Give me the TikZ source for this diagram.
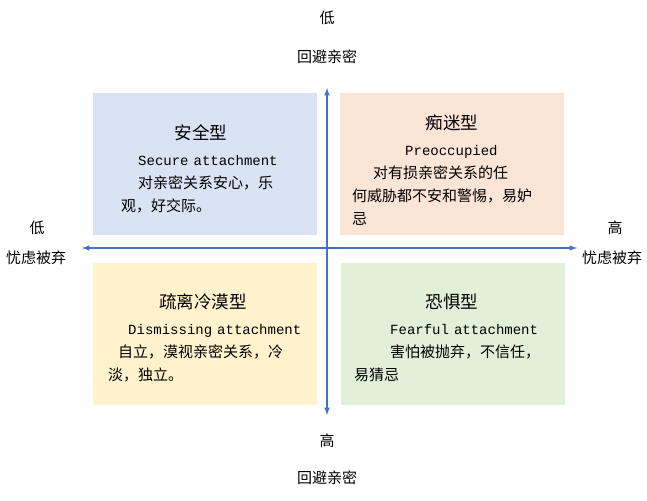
\documentclass[tikz,border=0pt]{standalone}
\usepackage{fontspec}
\setmainfont{Noto Sans CJK SC}
\newfontfamily\monofont{Liberation Mono}
\definecolor{qblue}{HTML}{DAE3F3}
\definecolor{qpeach}{HTML}{FBE5D6}
\definecolor{qyellow}{HTML}{FFF2CC}
\definecolor{qgreen}{HTML}{E2F0D9}
\definecolor{axisblue}{HTML}{4472C4}
\tikzset{
  quad/.style={minimum width=224pt,minimum height=142pt,inner sep=0pt},
  title/.style={font=\fontsize{17.5}{20}\selectfont},
  body/.style={font=\fontsize{15}{23}\selectfont,text width=220pt,align=left,inner sep=0pt},
  axlabel/.style={font=\fontsize{15}{17}\selectfont}
}
\newcommand{\en}[1]{\mbox{\monofont\fontsize{14}{23}\selectfont #1}}
\begin{document}
\begin{tikzpicture}[x=1pt,y=-1pt]
  \useasboundingbox (0,0) rectangle (647,500);
  % quadrants
  \node[quad,fill=qblue]   (secure)    at (205,164) {};
  \node[quad,fill=qpeach]  (preocc)    at (451.5,164) {};
  \node[quad,fill=qyellow] (dismiss)   at (205,333.5) {};
  \node[quad,fill=qgreen]  (fearful)   at (452.5,333.5) {};
  % axes
  \coordinate (left) at (82,248);
  \coordinate (right) at (577,248);
  \coordinate (top) at (327,88);
  \coordinate (bottom) at (327,415);
  \draw[axisblue,line width=1.5pt,<->,>=latex] (left) -- (right);
  \draw[axisblue,line width=1.5pt,<->,>=latex] (top) -- (bottom);
  % axis labels
  \node[axlabel] (toplow) at (327,18) {低};
  \node[axlabel] (topname) at (327,57) {回避亲密};
  \node[axlabel] (bothigh) at (327,441) {高};
  \node[axlabel] (botname) at (327,478) {回避亲密};
  \node[axlabel] (leftlow) at (37,228) {低};
  \node[axlabel] (leftname) at (36,258) {忧虑被弃};
  \node[axlabel] (righthigh) at (615,228) {高};
  \node[axlabel] (rightname) at (612,258) {忧虑被弃};
  % texts
  \node[title] (securet) at (201,133) {安全型};
  \node[body,anchor=north west] (secureb) at (121,155)
    {\hspace*{17pt}\en{Secure attachment}\\\hspace*{17pt}对亲密关系安心，乐\\观，好交际。};
  \node[title] (preocct) at (452,123) {痴迷型};
  \node[body,anchor=north west] (preoccb) at (352,145)
    {\hspace*{53pt}\en{Preoccupied}\\\hspace*{21pt}对有损亲密关系的任\\何威胁都不安和警惕，易妒\\忌};
  \node[title] (dismisst) at (203,302) {疏离冷漠型};
  \node[body,anchor=north west] (dismissb) at (108,324)
    {\hspace*{20pt}\en{Dismissing attachment}\\\hspace*{10pt}自立，漠视亲密关系，冷\\淡，独立。};
  \node[title] (fearfult) at (452,302) {恐惧型};
  \node[body,anchor=north west] (fearfulb) at (354,324)
    {\hspace*{36pt}\en{Fearful attachment}\\\hspace*{36pt}害怕被抛弃，不信任，\\易猜忌};
\end{tikzpicture}
\end{document}
